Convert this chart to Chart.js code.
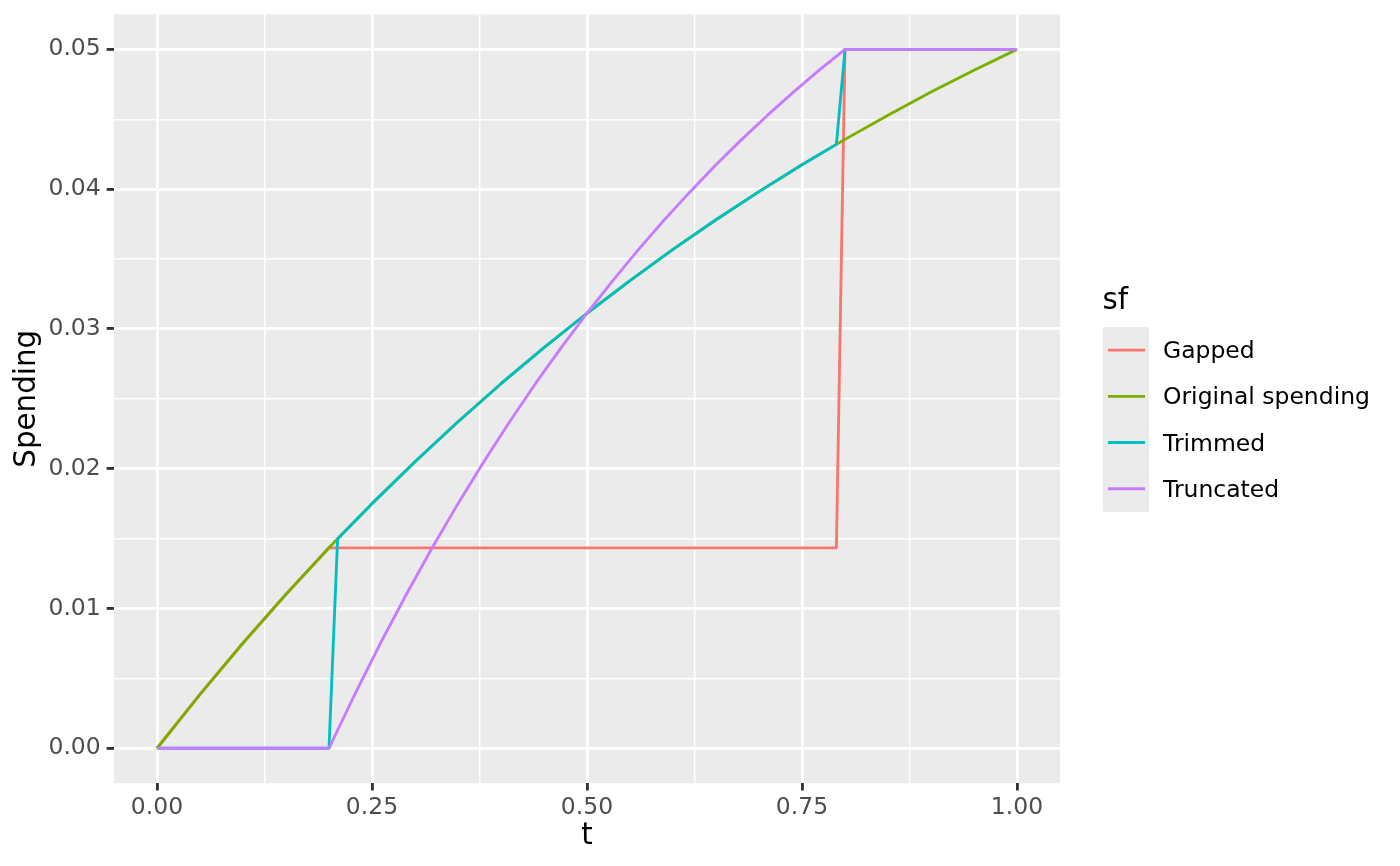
<!DOCTYPE html>
<html>
<head>
<meta charset="utf-8">
<script src="https://cdn.jsdelivr.net/npm/chart.js@4"></script>
<style>
  body { margin: 0; background: #ffffff; }
  #wrap { width: 1400px; height: 866px; position: relative; }
</style>
</head>
<body>
<div id="wrap"><canvas id="myChart"></canvas></div>
<script>
// values
const seriesNames = ['Gapped', 'Original spending', 'Trimmed', 'Truncated'];
const seriesColors = ['#F8766D', '#7CAE00', '#00BFC4', '#C77CFF'];

const gappedT = [0, 0.05, 0.10, 0.15, 0.20, 0.79, 0.80, 1.00];
const gappedY = [0, 0.00386, 0.00753, 0.01102, 0.01434, 0.01434, 0.05, 0.05];

const originalT = [0, 0.05, 0.10, 0.15, 0.20, 0.21, 0.25, 0.30, 0.35, 0.40, 0.45, 0.50, 0.55, 0.60, 0.65, 0.70, 0.75, 0.79, 0.80, 0.85, 0.90, 0.95, 1.00];
const originalY = [0, 0.00386, 0.00753, 0.01102, 0.01434, 0.01498, 0.01750, 0.02050, 0.02336, 0.02608, 0.02866, 0.03112, 0.03346, 0.03569, 0.03781, 0.03982, 0.04174, 0.04320, 0.04356, 0.04529, 0.04694, 0.04851, 0.05];

const trimmedT = [0, 0.20, 0.21, 0.25, 0.30, 0.35, 0.40, 0.45, 0.50, 0.55, 0.60, 0.65, 0.70, 0.75, 0.79, 0.80, 1.00];
const trimmedY = [0, 0, 0.01498, 0.01750, 0.02050, 0.02336, 0.02608, 0.02866, 0.03112, 0.03346, 0.03569, 0.03781, 0.03982, 0.04174, 0.04320, 0.05, 0.05];

const truncatedT = [0, 0.20, 0.23, 0.26, 0.29, 0.32, 0.35, 0.38, 0.41, 0.44, 0.47, 0.50, 0.53, 0.56, 0.59, 0.62, 0.65, 0.68, 0.71, 0.74, 0.77, 0.80, 1.00];
const truncatedY = [0, 0, 0.00386, 0.00753, 0.01102, 0.01434, 0.01750, 0.02050, 0.02336, 0.02608, 0.02866, 0.03112, 0.03346, 0.03569, 0.03781, 0.03982, 0.04174, 0.04356, 0.04529, 0.04694, 0.04851, 0.05, 0.05];

const xMajor = [0, 0.25, 0.5, 0.75, 1];
const xMinor = [0.125, 0.375, 0.625, 0.875];
const yMajor = [0, 0.01, 0.02, 0.03, 0.04, 0.05];
const yMinor = [0.005, 0.015, 0.025, 0.035, 0.045];

const FONT = "'DejaVu Sans', sans-serif";

const toPoints = (ts, ys) => ts.map((t, i) => ({x: t, y: ys[i]}));
const isMajor = (list, v) => list.some(m => Math.abs(m - v) < 1e-9);

const panelBg = {
    id: 'panelBg',
    beforeDraw: (chart) => {
        const a = chart.chartArea;
        const ctx = chart.ctx;
        ctx.save();
        ctx.fillStyle = '#EBEBEB';
        ctx.fillRect(a.left, a.top, a.right - a.left, a.bottom - a.top);
        ctx.restore();
    }
};

// ggplot style legend on the right
const sideLegend = {
    id: 'sideLegend',
    afterDraw: (chart) => {
        const ctx = chart.ctx;
        ctx.save();
        ctx.fillStyle = '#000000';
        ctx.font = '29.33px ' + FONT;
        ctx.textBaseline = 'alphabetic';
        ctx.textAlign = 'left';
        ctx.fillText('sf', 1102.5, 309);

        const keyTop = 327, keyH = 46.2;
        ctx.fillStyle = '#EBEBEB';
        ctx.fillRect(1103, keyTop, 46, keyH * seriesNames.length);

        ctx.font = '23.47px ' + FONT;
        ctx.textBaseline = 'middle';
        seriesNames.forEach((name, i) => {
            let cy = keyTop + keyH * i + keyH / 2;
            ctx.strokeStyle = seriesColors[i];
            ctx.lineWidth = 2.85;
            ctx.lineCap = 'butt';
            ctx.beginPath();
            ctx.moveTo(1108, cy);
            ctx.lineTo(1145, cy);
            ctx.stroke();
            ctx.fillStyle = '#000000';
            ctx.fillText(name, 1163, cy + 2);
        });
        ctx.restore();
    }
};

const makeDataset = (i, pts) => ({
    label: seriesNames[i],
    data: pts,
    borderColor: seriesColors[i],
    backgroundColor: seriesColors[i],
    borderWidth: 2.85,
    borderJoinStyle: 'round',
    borderCapStyle: 'butt',
    pointRadius: 0,
    tension: 0,
    fill: false,
    order: 4 - i
});

const gridOpts = (major) => ({
    color: '#FFFFFF',
    lineWidth: (c) => isMajor(major, c.tick.value) ? 2.85 : 1.42,
    tickColor: (c) => isMajor(major, c.tick.value) ? '#333333' : 'rgba(0,0,0,0)',
    tickWidth: 2.85,
    tickLength: 7.3,
    drawTicks: true
});

document.addEventListener('DOMContentLoaded', () => {
    let ctx = document.getElementById('myChart').getContext('2d');
    new Chart(ctx, {
        type: 'line',
        data: {
            datasets: [
                makeDataset(0, toPoints(gappedT, gappedY)),
                makeDataset(1, toPoints(originalT, originalY)),
                makeDataset(2, toPoints(trimmedT, trimmedY)),
                makeDataset(3, toPoints(truncatedT, truncatedY))
            ]
        },
        options: {
            responsive: true,
            maintainAspectRatio: false,
            animation: false,
            layout: { padding: { top: 14.4, right: 340, bottom: 0, left: 0 } },
            plugins: { legend: { display: false }, tooltip: { enabled: false } },
            scales: {
                x: {
                    type: 'linear',
                    min: -0.05,
                    max: 1.05,
                    border: { display: false },
                    grid: gridOpts(xMajor),
                    afterBuildTicks: (s) => {
                        s.ticks = xMajor.concat(xMinor).sort((a, b) => a - b).map(v => ({value: v}));
                    },
                    afterFit: (s) => {
                        s.height = 82.8;
                        s.paddingLeft = 0;
                        s.paddingRight = 0;
                    },
                    ticks: {
                        autoSkip: false,
                        maxRotation: 0,
                        padding: 3,
                        color: '#4D4D4D',
                        font: { family: FONT, size: 23.47 },
                        callback: (v) => isMajor(xMajor, v) ? v.toFixed(2) : ''
                    },
                    title: {
                        display: true,
                        text: 't',
                        color: '#000000',
                        font: { family: FONT, size: 29.33 },
                        padding: { top: 0, bottom: 12 }
                    }
                },
                y: {
                    type: 'linear',
                    min: -0.0025,
                    max: 0.0525,
                    border: { display: false },
                    grid: gridOpts(yMajor),
                    afterBuildTicks: (s) => {
                        s.ticks = yMajor.concat(yMinor).sort((a, b) => a - b).map(v => ({value: v}));
                    },
                    afterFit: (s) => {
                        s.width = 114;
                        s.paddingTop = 0;
                        s.paddingBottom = 0;
                    },
                    ticks: {
                        autoSkip: false,
                        padding: 6,
                        color: '#4D4D4D',
                        font: { family: FONT, size: 23.47 },
                        callback: (v) => isMajor(yMajor, v) ? v.toFixed(2) : ''
                    },
                    title: {
                        display: true,
                        text: 'Spending',
                        color: '#000000',
                        font: { family: FONT, size: 29.33 },
                        padding: { top: 10, bottom: 0 }
                    }
                }
            }
        },
        plugins: [panelBg, sideLegend]
    });
});
</script>
</body>
</html>
